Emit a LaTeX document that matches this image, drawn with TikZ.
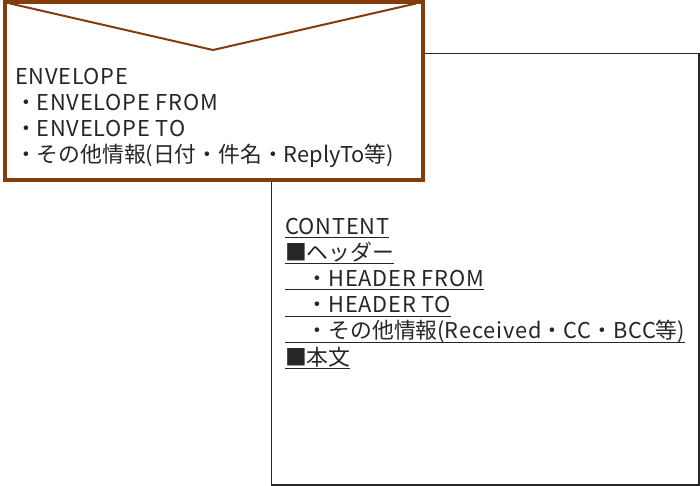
\documentclass[tikz,border=0pt]{standalone}
\usepackage{fontspec}
\setmainfont{Noto Sans CJK JP}
\newfontfamily\latwide[LetterSpace=3.5]{Noto Sans CJK JP}
\newcommand{\lw}[1]{{\latwide #1}}
\definecolor{envbrown}{RGB}{132,60,12}
\definecolor{ink}{RGB}{38,38,38}
\tikzset{
  txt/.style={anchor=base west, inner sep=0pt, outer sep=0pt, text=ink, font=\fontsize{21.8}{24}\selectfont},
  uline/.style={draw=ink, line width=1pt},
  contentbox/.style={draw=ink, line width=1.3pt, fill=white},
  envbox/.style={draw=envbrown, line width=4pt, fill=white},
  flap/.style={draw=envbrown, line width=2pt, line join=miter}
}
\begin{document}
\begin{tikzpicture}[x=1pt,y=-1pt]
\useasboundingbox (0,0) rectangle (700,486);
% content box
\coordinate (cbtl) at (271.5,53.5);
\coordinate (cbbr) at (699,485);
\draw[contentbox] (cbtl) rectangle (cbbr);
% envelope
\coordinate (ebtl) at (5,2);
\coordinate (ebbr) at (423,180.5);
\draw[envbox] (ebtl) rectangle (ebbr);
\coordinate (fl) at (10,3.5);
\coordinate (fm) at (213,50);
\coordinate (fr) at (416,3.5);
\draw[flap] (fl) -- (fm) -- (fr);
% envelope text
\node[txt] (e1) at (15,85) {\lw{ENVELOPE}};
\node[txt] (e2) at (15,111) {・\lw{ENVELOPE FROM}};
\node[txt] (e3) at (15,137) {・\lw{ENVELOPE TO}};
\node[txt] (e4) at (15,163) {・その他情報(日付・件名・ReplyTo等)};
% content text
\node[txt] (c1) at (285,234) {\lw{CONTENT}};
\node[txt] (c2) at (285,260) {■ヘッダー};
\node[txt] (c3) at (285,286) {　・\lw{HEADER FROM}};
\node[txt] (c4) at (285,312.5) {　・\lw{HEADER TO}};
\node[txt] (c5) at (285,338.5) {　・その他情報(\lw{Received}・\lw{CC}・\lw{BCC}等)};
\node[txt] (c6) at (285,365) {■本文};
\foreach \n in {c1,c2,c3,c4,c5,c6}{
  \draw[uline] ([yshift=-3.5pt]\n.base west) -- ([yshift=-3.5pt]\n.base east);
}
\end{tikzpicture}
\end{document}
